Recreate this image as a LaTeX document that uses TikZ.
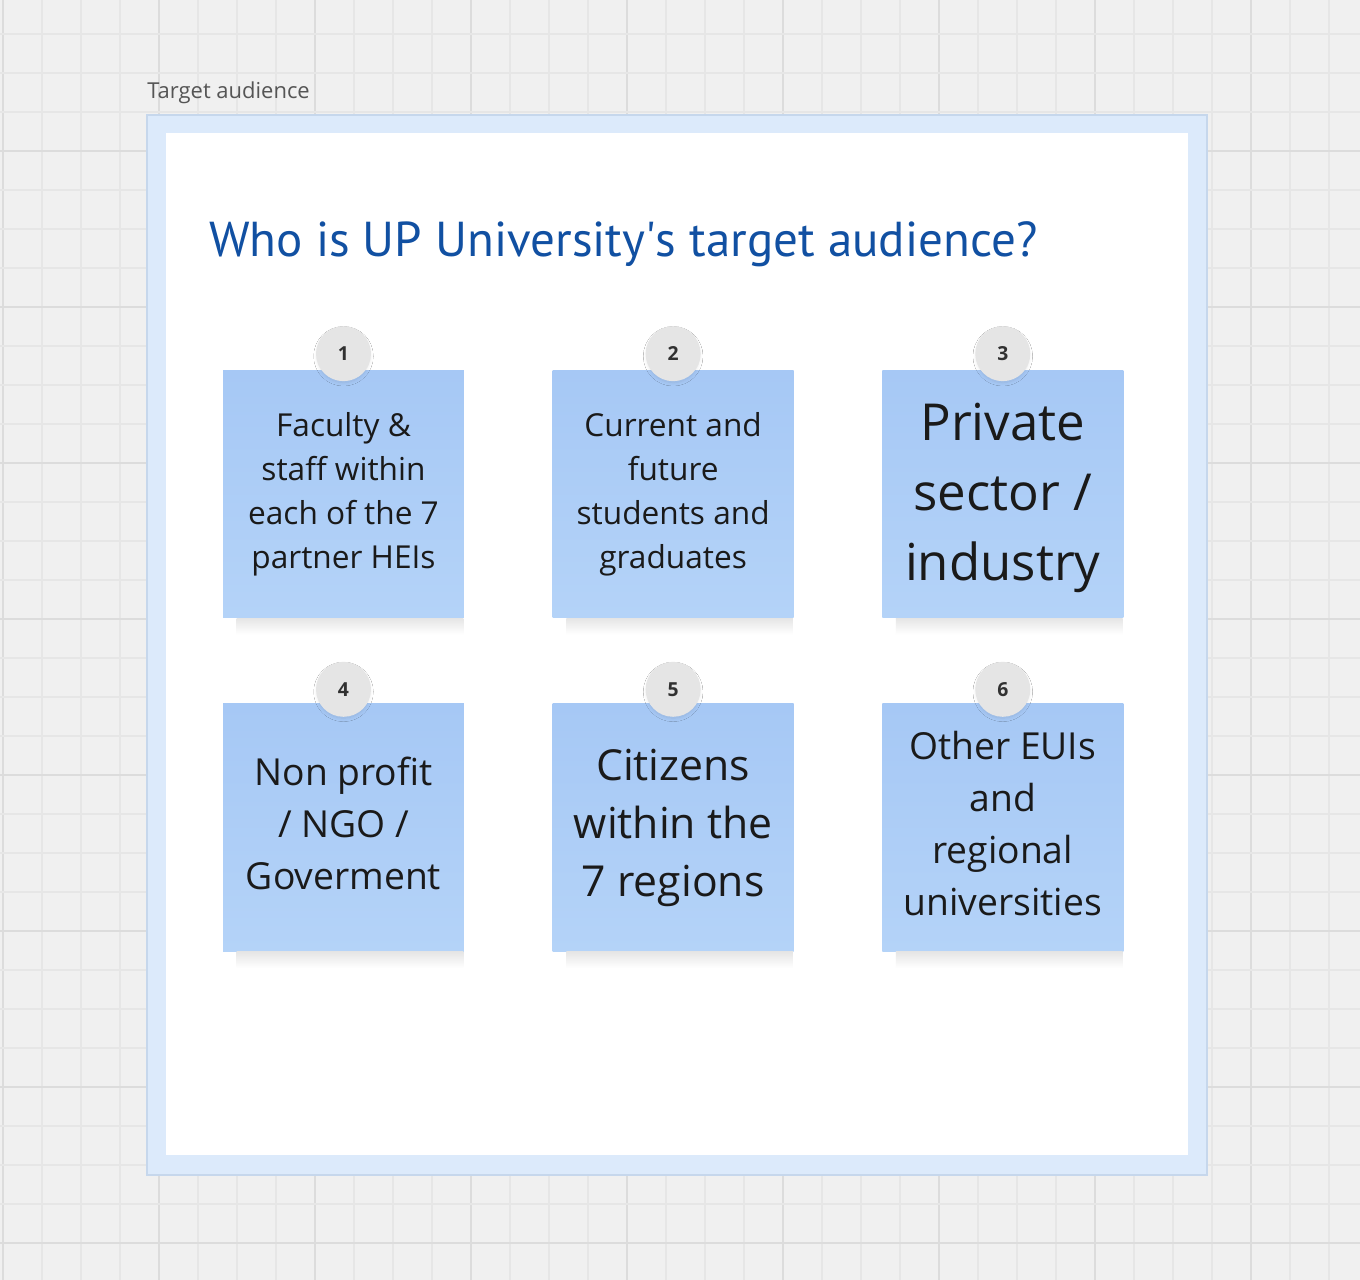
\documentclass[tikz,border=0pt]{standalone}
\usepackage{fontspec}
\usepackage{tikz}
\setmainfont{Open Sans}
\newfontfamily\titlefont{PT Sans}
\usetikzlibrary{positioning, shadows.blur}
\definecolor{canvasbg}{HTML}{F0F0F0}
\definecolor{gridminor}{HTML}{E6E6E6}
\definecolor{gridmajor}{HTML}{DCDCDC}
\definecolor{framebg}{HTML}{DCEAFB}
\definecolor{frameedge}{HTML}{C6D7EC}
\definecolor{stickytop}{HTML}{A6C8F5}
\definecolor{stickybottom}{HTML}{B4D3F8}
\definecolor{badgegray}{HTML}{E5E5E5}
\definecolor{titleblue}{HTML}{1150A2}
\definecolor{labelgray}{HTML}{555555}
\definecolor{notetext}{HTML}{1A1A1A}
\tikzset{
  sticky/.style={rectangle, minimum width=4.82cm, minimum height=4.96cm, inner sep=0pt, align=center, text=notetext, top color=stickytop, bottom color=stickybottom},
  dropshade/.style={top color=black!10, bottom color=white},
  badge/.style={circle, minimum size=1.1cm, inner sep=0pt, fill=badgegray, text=notetext!90, font=\fontsize{11}{13}\selectfont\bfseries, blur shadow={shadow xshift=0pt, shadow yshift=-1.5pt, shadow blur radius=2pt, shadow blur steps=12, shadow opacity=10, shadow scale=0.96}},
  gridline/.style={line width=0.6pt, draw=gridminor},
  gridbold/.style={line width=1pt, draw=gridmajor}
}

\begin{document}
\begin{tikzpicture}[x=0.02cm, y=0.02cm]
    \useasboundingbox (0,0) rectangle (1360,-1280);
    \fill[canvasbg] (0,0) rectangle (1360,-1280);
    % board grid
    \foreach \i in {0,...,34} {
        \pgfmathtruncatemacro{\gx}{3+39*\i}
        \pgfmathtruncatemacro{\major}{mod(\i,4)}
        \ifnum\major=0 \draw[gridbold] (\gx,0) -- (\gx,-1280); \else \draw[gridline] (\gx,0) -- (\gx,-1280); \fi
    }
    \foreach \j in {1,...,33} {
        \pgfmathtruncatemacro{\gy}{5-39*\j}
        \pgfmathtruncatemacro{\major}{mod(\j,4)}
        \ifnum\major=0 \draw[gridbold] (0,\gy) -- (1360,\gy); \else \draw[gridline] (0,\gy) -- (1360,\gy); \fi
    }

    % frame
    \node[anchor=base west, inner sep=0pt, text=labelgray, font=\fontsize{12.5}{15}\selectfont] (framelabel) at (147,-99) {Target audience};
    \filldraw[fill=framebg, draw=frameedge, line width=0.6pt] (147,-115) rectangle (1207,-1175);
    \fill[white] (166,-133) rectangle (1188,-1155);

    \node[anchor=west, inner sep=0pt, text=titleblue, font=\titlefont\fontsize{27.9}{32}\selectfont] (title) at (209,-244) {Who is UP University\textquotesingle s target audience?};

    % sticky notes
    \node[sticky, font=\fontsize{18}{25}\selectfont] (n1) at (343.5,-494) {Faculty \&\\staff within\\each of the 7\\partner HEIs};
    \node[sticky, font=\fontsize{18}{25}\selectfont, right=1.76cm of n1] (n2) {Current and\\future\\students and\\graduates};
    \node[sticky, font=\fontsize{29}{40}\selectfont, right=1.76cm of n2] (n3) {\rule{0pt}{26pt}Private\\sector /\\industry};
    \node[sticky, font=\fontsize{21.2}{29.6}\selectfont, below=1.7cm of n1] (n4) {Non profit\\/ NGO /\\Goverment\rule[-4.6pt]{0pt}{4.6pt}};
    \node[sticky, font=\fontsize{24.3}{33}\selectfont, below=1.7cm of n2] (n5) {Citizens\\within the\\7 regions};
    \node[sticky, font=\fontsize{21.2}{29.6}\selectfont, below=1.7cm of n3] (n6) {Other EUIs\\and\\regional\\universities\rule[-4.6pt]{0pt}{4.6pt}};

    % soft shadow under each note
    \foreach \n in {n1,n2,n3,n4,n5,n6}
        \shade[dropshade] ([xshift=0.28cm]\n.south west) rectangle ([xshift=-0.02cm,yshift=-0.32cm]\n.south east);

    % number badges
    \node[badge] (b1) at ([yshift=0.32cm]n1.north) {1};
    \node[badge] (b2) at ([yshift=0.32cm]n2.north) {2};
    \node[badge] (b3) at ([yshift=0.32cm]n3.north) {3};
    \node[badge] (b4) at ([yshift=0.28cm]n4.north) {4};
    \node[badge] (b5) at ([yshift=0.28cm]n5.north) {5};
    \node[badge] (b6) at ([yshift=0.28cm]n6.north) {6};
\end{tikzpicture}
\end{document}
